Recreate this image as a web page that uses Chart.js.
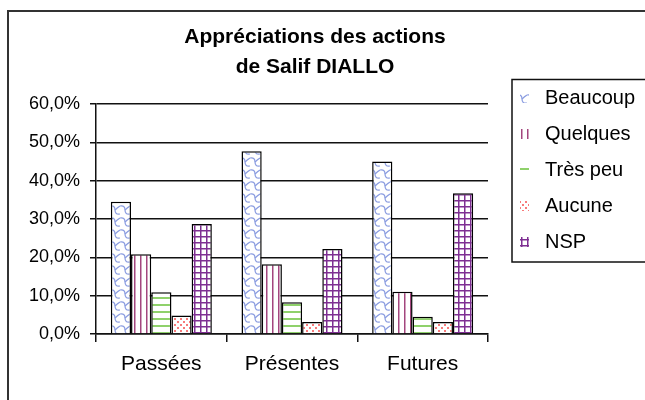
<!DOCTYPE html>
<html lang="fr">
<head>
<meta charset="utf-8">
<title>Appréciations des actions de Salif DIALLO</title>
<script src="https://cdn.jsdelivr.net/npm/chart.js@4.4.1/dist/chart.umd.min.js"></script>
<style>
  html, body { margin: 0; padding: 0; background: #fff; overflow: hidden; }
  #wrap { width: 645px; height: 400px; }
</style>
</head>
<body>
<div id="wrap"><canvas id="chart" width="645" height="400"></canvas></div>
<script>
// values (percent)
const categories = ['Passées', 'Présentes', 'Futures'];
const seriesNames = ['Beaucoup', 'Quelques', 'Très peu', 'Aucune', 'NSP'];
const beaucoup = [34.5, 47.7, 45.0];
const quelques = [20.8, 18.2, 11.0];
const tresPeu = [10.9, 8.3, 4.5];
const aucune = [4.8, 3.1, 3.1];
const nsp = [28.7, 22.2, 36.7];
const tickLabels = ['0,0%', '10,0%', '20,0%', '30,0%', '40,0%', '50,0%', '60,0%'];
const titleLines = ['Appréciations des actions', 'de Salif DIALLO'];

const FONT = "'Liberation Sans', Arial, sans-serif";

// small bitmap tiles, like the old spreadsheet fill patterns
function tile(w, h, paint) {
  const c = document.createElement('canvas');
  c.width = w;
  c.height = h;
  const g = c.getContext('2d');
  g.fillStyle = '#fff';
  g.fillRect(0, 0, w, h);
  paint(g);
  return c;
}

const tiles = [
  tile(10, 12, g => {
    g.strokeStyle = '#8a9ce0';
    g.lineWidth = 1.2;
    g.beginPath();
    g.moveTo(0, 2);
    g.quadraticCurveTo(5, 1, 5, 6);
    g.quadraticCurveTo(5, 11, 10, 10);
    g.stroke();
    g.beginPath();
    g.moveTo(5, 6);
    g.quadraticCurveTo(8, 3, 10, 2);
    g.stroke();
  }),
  tile(6, 6, g => {
    g.fillStyle = '#a3467e';
    g.fillRect(2, 0, 1.5, 6);
  }),
  tile(6, 7, g => {
    g.fillStyle = '#8fd16b';
    g.fillRect(0, 3, 6, 2);
  }),
  tile(6, 6, g => {
    g.fillStyle = '#f77a7a';
    g.fillRect(0, 0, 2, 2);
    g.fillRect(3, 3, 2, 2);
  }),
  tile(6, 6, g => {
    g.fillStyle = '#7e2f92';
    g.fillRect(2, 0, 1.5, 6);
    g.fillRect(0, 2, 6, 1.5);
  })
];

const canvas = document.getElementById('chart');
const ctx = canvas.getContext('2d');
const fills = tiles.map(t => ctx.createPattern(t, 'repeat'));

// legend glyphs: a small crop of each pattern at the right of a 25px slot
const icons = tiles.map(t => {
  const c = document.createElement('canvas');
  c.width = 25;
  c.height = 10;
  const g = c.getContext('2d');
  g.fillStyle = g.createPattern(t, 'repeat');
  g.fillRect(13, 0, 9, 10);
  return c;
});

const seriesValues = [beaucoup, quelques, tresPeu, aucune, nsp];

const frames = {
  id: 'frames',
  afterLayout(chart) {
    // let the legend text run up to the canvas edge instead of being clipped
    chart.legend.right = chart.width;
  },
  afterDraw(chart) {
    const { legend } = chart;
    const c = chart.ctx;
    c.save();
    c.strokeStyle = '#333';
    c.lineWidth = 2;
    c.strokeRect(8, 11, chart.width + 50, chart.height + 50);
    const boxes = legend.legendHitBoxes;
    const first = boxes[0];
    const last = boxes[boxes.length - 1];
    const top = first.top - 8.5;
    c.strokeStyle = '#111';
    c.lineWidth = 1.5;
    c.strokeRect(first.left + 8, top, chart.width, last.top + last.height + 10 - top);
    c.restore();
  }
};

new Chart(canvas, {
  type: 'bar',
  data: {
    labels: categories,
    datasets: seriesValues.map((values, i) => ({
      label: seriesNames[i],
      data: values,
      backgroundColor: fills[i],
      borderColor: '#000',
      borderWidth: 1.5
    }))
  },
  options: {
    responsive: false,
    animation: false,
    events: [],
    layout: { padding: { left: 0, right: 15, top: 0, bottom: 0 } },
    datasets: { bar: { categoryPercentage: 0.773, barPercentage: 1 } },
    scales: {
      x: {
        grid: { drawOnChartArea: false, tickLength: 8, color: '#111', lineWidth: 1.5, offset: true },
        border: { color: '#111', width: 1.5 },
        ticks: { color: '#000', font: { family: FONT, size: 21 }, padding: 10, maxRotation: 0 },
        afterFit: s => { s.height = 66; }
      },
      y: {
        min: 0,
        max: 60,
        grid: { color: '#111', lineWidth: 1.5, tickLength: 6 },
        border: { color: '#111', width: 1.5 },
        ticks: {
          stepSize: 10,
          color: '#000',
          font: { family: FONT, size: 18 },
          padding: 10,
          callback: v => tickLabels[Math.round(v / 10)]
        },
        afterFit: s => { s.width = 96; }
      }
    },
    plugins: {
      title: {
        display: true,
        text: titleLines,
        color: '#000',
        font: { family: FONT, size: 21, weight: 'bold', lineHeight: 30 / 21 },
        padding: { top: 22, bottom: 22 }
      },
      legend: {
        position: 'right',
        align: 'start',
        maxWidth: 142,
        // empty title only pushes the entries down to where the frame sits
        title: { display: true, text: ' ', color: 'rgba(0,0,0,0)', font: { size: 10, lineHeight: 1 }, padding: { top: 62, bottom: 0 } },
        labels: {
          color: '#000',
          font: { family: FONT, size: 20 },
          padding: 16,
          usePointStyle: true,
          pointStyleWidth: 31,
          boxHeight: 10,
          generateLabels: chart => chart.data.datasets.map((ds, i) => ({
            text: ds.label,
            pointStyle: icons[i],
            fillStyle: ds.backgroundColor,
            strokeStyle: 'rgba(0,0,0,0)',
            lineWidth: 0,
            fontColor: '#000',
            hidden: false,
            datasetIndex: i
          }))
        }
      },
      tooltip: { enabled: false }
    }
  },
  plugins: [frames]
});
</script>
</body>
</html>
